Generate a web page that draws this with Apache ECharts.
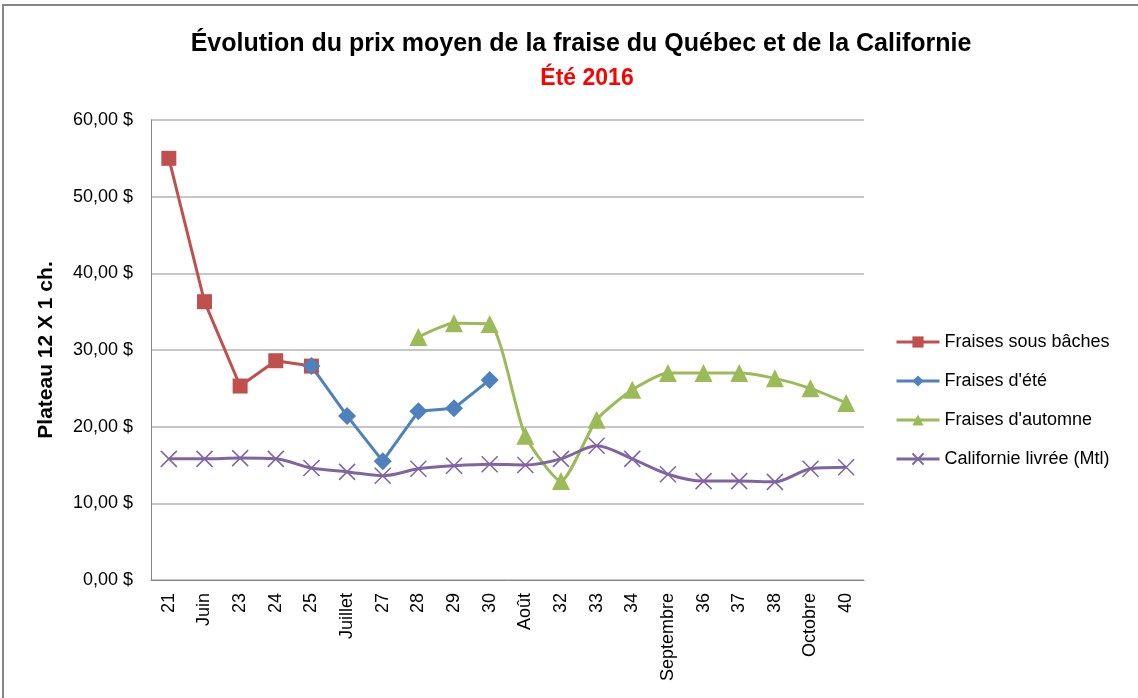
<!DOCTYPE html>
<html>
<head>
<meta charset="utf-8">
<script src="https://cdn.jsdelivr.net/npm/echarts@6/dist/echarts.min.js"></script>
<style>
html,body{margin:0;padding:0;background:#fff;}
#c{width:1138px;height:698px;}
</style>
</head>
<body>
<div id="c"></div>
<script>
const categories = ['21','Juin','23','24','25','Juillet','27','28','29','30','Août','32','33','34','Septembre','36','37','38','Octobre','40'];
const sousBaches = [55.0, 36.3, 25.3, 28.6, 27.9, null, null, null, null, null, null, null, null, null, null, null, null, null, null, null];
const ete = [null, null, null, null, 27.9, 21.4, 15.5, 22.0, 22.4, 26.1, null, null, null, null, null, null, null, null, null, null];
const automne = [null, null, null, null, null, null, null, 31.7, 33.5, 33.4, 18.8, 12.9, 20.9, 24.8, 27.0, 27.0, 27.0, 26.3, 25.0, 23.1];
const californie = [15.8, 15.8, 15.9, 15.8, 14.6, 14.1, 13.6, 14.5, 14.9, 15.1, 15.0, 15.8, 17.5, 15.8, 13.8, 12.9, 12.9, 12.8, 14.5, 14.7];
const yTicks = {min: 0, max: 60, interval: 10};

const FONT = 'Liberation Sans';
const chart = echarts.init(document.getElementById('c'), null, {renderer: 'canvas'});
const crossPath = 'path://M0,0L10,10M10,0L0,10';
chart.setOption({
  animation: false,
  backgroundColor: '#fff',
  textStyle: {fontFamily: FONT},
  graphic: [{
    type: 'rect', shape: {x: 3, y: 5, width: 1140, height: 700},
    style: {fill: 'none', stroke: '#868686', lineWidth: 2}, silent: true
  }],
  title: [{
    text: 'Évolution du prix moyen de la fraise du Québec et de la Californie',
    left: 576, top: 27, textAlign: 'center',
    textStyle: {fontFamily: FONT, fontSize: 25, fontWeight: 'bold', color: '#000'}
  }, {
    text: 'Été 2016',
    left: 582, top: 62, textAlign: 'center',
    textStyle: {fontFamily: FONT, fontSize: 23, fontWeight: 'bold', color: '#FF0000'}
  }],
  legend: {
    orient: 'vertical', left: 890, top: 328, itemGap: 21,
    itemWidth: 43, itemHeight: 14,
    lineStyle: {width: 3},
    textStyle: {fontFamily: FONT, fontSize: 18, color: '#000'},
    data: ['Fraises sous bâches', "Fraises d'été", "Fraises d'automne", 'Californie livrée (Mtl)']
  },
  grid: {left: 151, right: 274, top: 120, bottom: 118, containLabel: false},
  xAxis: {
    type: 'category', data: categories, boundaryGap: true,
    axisLine: {lineStyle: {color: '#868686', width: 1}},
    axisTick: {show: false},
    axisLabel: {rotate: 90, color: '#000', fontFamily: FONT, fontSize: 18, margin: 13}
  },
  yAxis: {
    type: 'value', min: yTicks.min, max: yTicks.max, interval: yTicks.interval,
    name: 'Plateau 12 X 1 ch.', nameLocation: 'middle', nameGap: 94, nameRotate: 90,
    nameTextStyle: {fontFamily: FONT, fontSize: 21, fontWeight: 'bold', color: '#000'},
    axisLine: {show: true, lineStyle: {color: '#868686', width: 1}},
    axisTick: {show: false},
    splitLine: {lineStyle: {color: '#B3B3B3', width: 1.5}},
    axisLabel: {
      color: '#000', fontFamily: FONT, fontSize: 18, margin: 18,
      formatter: v => v.toFixed(2).replace('.', ',') + ' $'
    }
  },
  series: [{
    name: 'Fraises sous bâches', type: 'line', data: sousBaches,
    symbol: 'rect', symbolSize: 15,
    itemStyle: {color: '#C0504D'}, lineStyle: {color: '#C0504D', width: 3}
  }, {
    name: "Fraises d'été", type: 'line', data: ete,
    symbol: 'diamond', symbolSize: 18,
    itemStyle: {color: '#4F81BD'}, lineStyle: {color: '#4F81BD', width: 3}
  }, {
    name: "Fraises d'automne", type: 'line', data: automne, smooth: 0.2,
    symbol: 'triangle', symbolSize: 18,
    itemStyle: {color: '#9BBB59'}, lineStyle: {color: '#9BBB59', width: 3}
  }, {
    name: 'Californie livrée (Mtl)', type: 'line', data: californie, smooth: 0.3,
    symbol: crossPath, symbolSize: 16,
    itemStyle: {color: '#8064A2', borderColor: '#8064A2', borderWidth: 1.5},
    lineStyle: {color: '#8064A2', width: 3}
  }]
});
</script>
</body>
</html>
